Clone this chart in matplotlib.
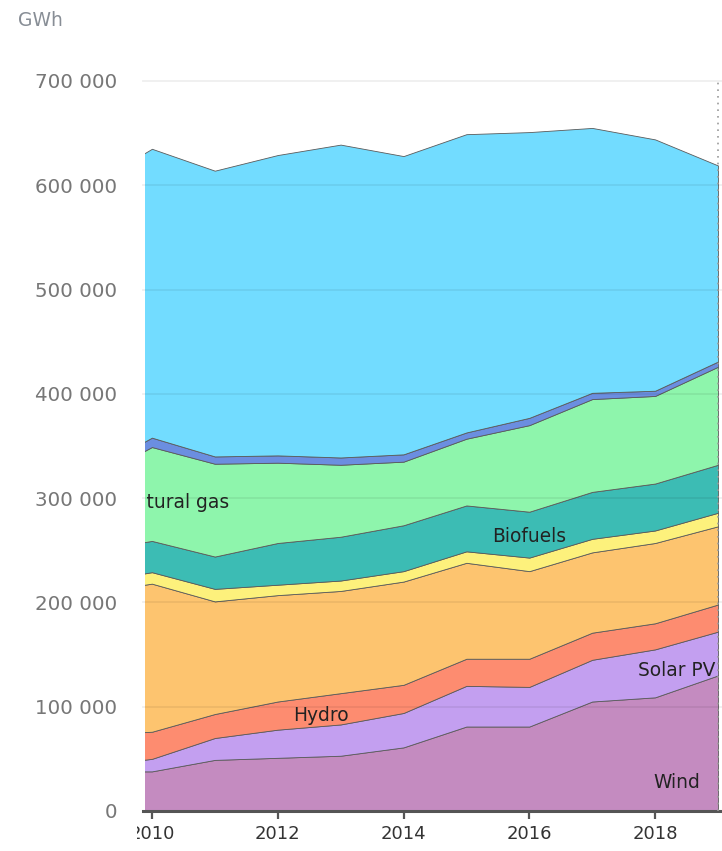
#!/usr/bin/python3

import matplotlib
matplotlib.use("Agg")
import matplotlib.pyplot as plt
from matplotlib.ticker import FuncFormatter
from matplotlib.transforms import Bbox, TransformedBbox

# electricity generation by source, GWh
years = [2009, 2010, 2011, 2012, 2013, 2014, 2015, 2016, 2017, 2018, 2019]
wind = [38, 38, 49, 51, 53, 61, 81, 81, 105, 109, 130]
solar_pv = [5, 12, 21, 27, 30, 33, 39, 38, 40, 46, 42]
hydro = [30, 26, 23, 27, 30, 27, 26, 27, 26, 25, 26]
nuclear = [136, 142, 108, 102, 98, 99, 92, 84, 77, 77, 75]
waste = [10, 11, 12, 10, 10, 10, 11, 13, 13, 12, 13]
biofuels = [30, 30, 31, 40, 42, 44, 44, 44, 45, 45, 46]
natural_gas = [68, 90, 89, 77, 69, 61, 64, 83, 89, 84, 94]
oil = [8, 9, 7, 7, 7, 7, 6, 7, 6, 5, 5]
coal = [274, 277, 274, 288, 300, 286, 286, 274, 254, 241, 188]

series = [wind, solar_pv, hydro, nuclear, waste, biofuels, natural_gas, oil, coal]
colors = ["#c48bc0", "#c39ff0", "#fd8c70", "#fdc46f", "#fdf17c",
          "#3cbcb4", "#8ef5ac", "#6b8ee0", "#72dcff"]

year_ticks = [2010, 2012, 2014, 2016, 2018]
gwh_ticks = [0, 100000, 200000, 300000, 400000, 500000, 600000, 700000]

# series labels: (text, x, y, ha)
labels = [
    ("Wind", 2018.34, 27000, "center"),
    ("Solar PV", 2018.34, 135000, "center"),
    ("Hydro", 2012.69, 92000, "center"),
    ("Biofuels", 2015.99, 263000, "center"),
    ("Natural gas", 2011.22, 296000, "right"),
]


def main():
    plt.rcParams["font.family"] = ["DejaVu Sans"]
    fig = plt.figure(figsize=(7.22, 8.51), dpi=100)
    ax = fig.add_axes([145 / 722, 40 / 851, 573 / 722, 730 / 851])

    values = [[v * 1000 for v in s] for s in series]
    ax.stackplot(years, values, colors=colors, edgecolor="#5a5a5a",
                 linewidth=0.6, zorder=2)

    ax.set_xlim(2009.89, 2019.0)
    ax.set_ylim(0, 700000)

    # light gridlines, a touch beyond the plot on both sides
    for g in gwh_ticks[1:]:
        ax.plot([-0.004, 1.007], [g / 700000] * 2, transform=ax.transAxes,
                color="black", alpha=0.06, lw=1.4, clip_on=False, zorder=3)
    ax.plot([-0.004, 1.007], [0, 0], transform=ax.transAxes,
            color="#555555", lw=2.2, clip_on=False, zorder=4)
    ax.axvline(2019.0, ymin=0, ymax=1.002, color="#9a9a9a", lw=1.2,
               ls=(0, (1, 3)), clip_on=False, zorder=4)

    for s in ["top", "right", "left", "bottom"]:
        ax.spines[s].set_visible(False)

    ax.set_yticks(gwh_ticks)
    ax.yaxis.set_major_formatter(
        FuncFormatter(lambda v, p: f"{int(v):,}".replace(",", " ")))
    ax.tick_params(axis="y", length=0, pad=20, labelsize=14.3,
                   labelcolor="#777777")

    ax.set_xticks(year_ticks)
    ax.set_xticklabels([str(y) for y in year_ticks])
    ax.tick_params(axis="x", length=6, width=1.6, color="#555555", pad=4,
                   labelsize=13, labelcolor="#333333")

    # the first year label is cut at the left, as in the source
    clip = TransformedBbox(Bbox([[137 / 722, 0], [1, 1]]), fig.transFigure)
    for lbl in ax.get_xticklabels():
        if lbl.get_text() == "2010":
            lbl.set_clip_box(clip)
            lbl.set_clip_on(True)

    for text, x, y, ha in labels:
        ax.text(x, y, text, ha=ha, va="center", fontsize=13.4,
                color="#222222", clip_on=True, zorder=5)

    fig.text(18 / 722, 1 - 20 / 851, "GWh", ha="left", va="center",
             fontsize=13.5, color="#888e96")

    fig.savefig("out.png", dpi=100)


if __name__ == "__main__":
    main()
